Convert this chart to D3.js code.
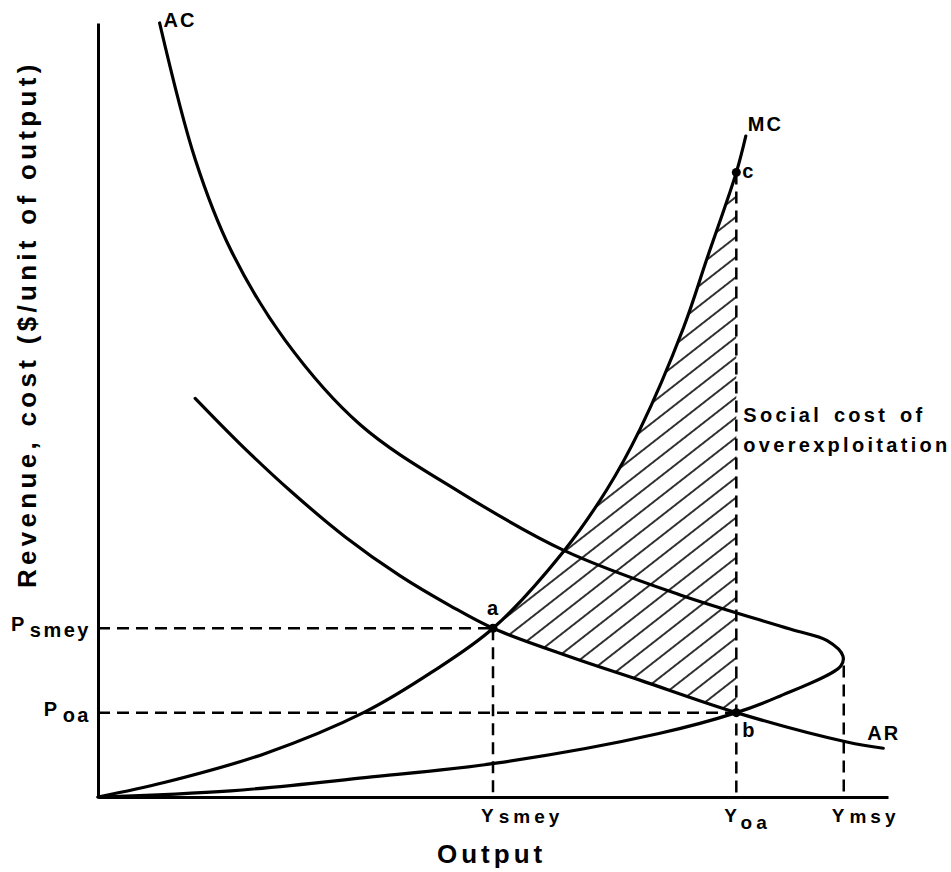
<!DOCTYPE html>
<html>
<head>
<meta charset="utf-8">
<script src="https://cdn.jsdelivr.net/npm/d3@7"></script>
<style>
  body { margin: 0; background: #fff; }
  text { font-family: "Liberation Sans", Arial, sans-serif; font-weight: bold; fill: #000; }
</style>
</head>
<body>
<div id="chart"></div>
<script>
// curves as [output, price] pairs (arbitrary units 0-100)
const acCurve = [[7.8,100],[12.3,82.4],[16.8,70.7],[23.7,59.0],[33.2,48.1],[45.8,39.4],[58.9,31.9],
  [73.7,26.1],[87.6,21.7],[92.3,20.2],[94.3,18.2],[94.0,16.9],[86.0,12.9],[80.8,10.9],
  [71.0,8.2],[50.6,4.4],[33.8,2.5],[16.8,0.8],[0,0]];
const arCurve = [[12.3,51.5],[18.0,45.6],[24.3,39.6],[31.3,33.6],[38.2,28.6],[44.6,24.7],[50,21.8],
  [60.1,18.0],[68.6,15.1],[80.8,10.9],[94.8,7.1],[99.4,6.3]];
const mcCurve = [[0,0],[8.5,1.9],[21.1,5.6],[33.8,11.0],[42.2,16.1],[50,21.8],[58.9,31.7],[64.4,39.7],
  [68.6,47.5],[74.1,60.6],[77.1,69.6],[80.8,80.7],[82.0,85.4]];

// key points
const pointNames = ["a", "b", "c"];
const pointValues = [[50, 21.8], [80.8, 10.9], [80.8, 80.7]];

// axis labels
const outputTicks = [50, 80.8, 94.4];
const outputTickLabels = [["Y", "smey"], ["Y", "oa"], ["Y", "msy"]];
const priceTicks = [21.8, 10.9];
const priceTickLabels = [["P", "smey"], ["P", "oa"]];
const ymsyTop = 17.0;

const curveNames = ["AC", "MC", "AR"];

function draw() {
  const width = 951, height = 872;
  const margin = { top: 23, right: 63, bottom: 75, left: 98 };

  const x = d3.scaleLinear().domain([0, 100]).range([margin.left, width - margin.right]);
  const y = d3.scaleLinear().domain([0, 100]).range([height - margin.bottom, margin.top]);

  const svg = d3.select("#chart").append("svg")
    .attr("width", width)
    .attr("height", height);

  const line = d3.line()
    .x(function(d) { return x(d[0]); })
    .y(function(d) { return y(d[1]); })
    .curve(d3.curveCatmullRom.alpha(0.5));

  const a = pointValues[0], b = pointValues[1], c = pointValues[2];

  // curves (appended first so they can be sampled for the hatched area)
  const curveG = svg.append("g").attr("class", "curves");
  const acPath = curveG.append("path").attr("d", line(acCurve));
  const arPath = curveG.append("path").attr("d", line(arCurve));
  const mcPath = curveG.append("path").attr("d", line(mcCurve));
  curveG.selectAll("path")
    .attr("fill", "none")
    .attr("stroke", "#000")
    .attr("stroke-width", 3.2)
    .attr("stroke-linecap", "round")
    .attr("stroke-linejoin", "round");

  // hatched area between MC and AR from a to Yoa
  function sample(node, n) {
    const L = node.getTotalLength();
    const pts = [];
    for (let i = 0; i <= n; i++) {
      const p = node.getPointAtLength(L * i / n);
      pts.push([p.x, p.y]);
    }
    return pts;
  }
  const xa = x(a[0]), xb = x(b[0]);
  const mcPts = sample(mcPath.node(), 600).filter(function(p) { return p[0] > xa && p[0] < xb; });
  const arPts = sample(arPath.node(), 600).filter(function(p) { return p[0] > xa && p[0] < xb; }).reverse();
  const region = [[xa, y(a[1])]].concat(mcPts, [[xb, y(c[1])], [xb, y(b[1])]], arPts);

  const defs = svg.append("defs");
  defs.append("clipPath").attr("id", "hatchClip")
    .append("polygon")
    .attr("points", region.map(function(p) { return p.join(","); }).join(" "));
  const pat = defs.append("pattern")
    .attr("id", "hatch")
    .attr("patternUnits", "userSpaceOnUse")
    .attr("width", 10)
    .attr("height", 15.8)
    .attr("patternTransform", "rotate(-38)");
  pat.append("line")
    .attr("x1", -1).attr("x2", 11)
    .attr("y1", 7.9).attr("y2", 7.9)
    .attr("stroke", "#000")
    .attr("stroke-width", 1.6);

  svg.insert("rect", ".curves")
    .attr("x", xa - 5)
    .attr("y", y(c[1]) - 5)
    .attr("width", xb - xa + 10)
    .attr("height", y(b[1]) - y(c[1]) + 10)
    .attr("fill", "url(#hatch)")
    .attr("clip-path", "url(#hatchClip)");

  // dashed guide lines
  const guides = [
    [[0, a[1]], [a[0], a[1]]],
    [[a[0], a[1]], [a[0], 0]],
    [[0, b[1]], [b[0], b[1]]],
    [[c[0], c[1]], [c[0], 0]],
    [[outputTicks[2], ymsyTop], [outputTicks[2], 0]]
  ];
  svg.insert("g", ".curves").selectAll("line")
    .data(guides)
    .enter()
    .append("line")
    .attr("x1", function(d) { return x(d[0][0]); })
    .attr("y1", function(d) { return y(d[0][1]); })
    .attr("x2", function(d) { return x(d[1][0]); })
    .attr("y2", function(d) { return y(d[1][1]); })
    .attr("stroke", "#000")
    .attr("stroke-width", 2.5)
    .attr("stroke-dasharray", "12,7");

  // axes
  const xAxis = d3.axisBottom(x).tickValues([]).tickSizeOuter(0);
  const yAxis = d3.axisLeft(y).tickValues([]).tickSizeOuter(0);
  const gx = svg.append("g").attr("transform", "translate(0," + y(0) + ")").call(xAxis);
  const gy = svg.append("g").attr("transform", "translate(" + x(0) + ",0)").call(yAxis);
  gx.select(".domain").attr("stroke-width", 3);
  gy.select(".domain").attr("stroke-width", 3);

  // points
  svg.selectAll(".pt")
    .data(pointValues)
    .enter()
    .append("circle")
    .attr("class", "pt")
    .attr("cx", function(d) { return x(d[0]); })
    .attr("cy", function(d) { return y(d[1]); })
    .attr("r", 4.5)
    .attr("fill", "#000");

  const pointOffsets = [[-6, -13], [6, 24], [6, 6]];
  svg.selectAll(".ptlabel")
    .data(pointNames)
    .enter()
    .append("text")
    .attr("class", "ptlabel")
    .attr("x", function(d, i) { return x(pointValues[i][0]) + pointOffsets[i][0]; })
    .attr("y", function(d, i) { return y(pointValues[i][1]) + pointOffsets[i][1]; })
    .attr("font-size", 20)
    .text(function(d) { return d; });

  // curve labels
  const curveLabelPos = [[acCurve[0], 4, 4], [mcCurve[mcCurve.length - 1], 2, -5], [arCurve[arCurve.length - 1], -16, -8]];
  svg.selectAll(".clabel")
    .data(curveNames)
    .enter()
    .append("text")
    .attr("class", "clabel")
    .attr("x", function(d, i) { return x(curveLabelPos[i][0][0]) + curveLabelPos[i][1]; })
    .attr("y", function(d, i) { return y(curveLabelPos[i][0][1]) + curveLabelPos[i][2]; })
    .attr("font-size", 20)
    .attr("letter-spacing", 2)
    .text(function(d) { return d; });

  // social cost note
  const note = svg.append("text")
    .attr("x", x(c[0]) + 7)
    .attr("y", 422)
    .attr("font-size", 20)
    .attr("letter-spacing", 3.3);
  note.append("tspan").attr("x", x(c[0]) + 7).attr("word-spacing", 3).text("Social cost of");
  note.append("tspan").attr("x", x(c[0]) + 7).attr("dy", 30).text("overexploitation");

  // price labels
  const pl = svg.selectAll(".plabel")
    .data(priceTickLabels)
    .enter()
    .append("text")
    .attr("class", "plabel")
    .attr("text-anchor", "end")
    .attr("x", x(0) - 7)
    .attr("y", function(d, i) { return y(priceTicks[i]) + 3; })
    .attr("font-size", 20)
    .attr("letter-spacing", 2.5);
  pl.append("tspan").text(function(d) { return d[0]; });
  pl.append("tspan").attr("dx", 3).attr("dy", 6).text(function(d) { return d[1]; });

  // output labels
  const ol = svg.selectAll(".olabel")
    .data(outputTickLabels)
    .enter()
    .append("text")
    .attr("class", "olabel")
    .attr("x", function(d, i) { return x(outputTicks[i]) - 12; })
    .attr("y", 822)
    .attr("font-size", 19)
    .attr("letter-spacing", 4);
  ol.append("tspan").text(function(d) { return d[0]; });
  ol.append("tspan").attr("dx", 1).attr("dy", function(d) { return d[1] === "oa" ? 7 : 1; })
    .text(function(d) { return d[1]; });

  // axis titles
  svg.append("text")
    .attr("x", 437)
    .attr("y", 863)
    .attr("font-size", 26)
    .attr("letter-spacing", 4)
    .text("Output");

  svg.append("text")
    .attr("transform", "translate(36,588) rotate(-90)")
    .attr("font-size", 26)
    .attr("letter-spacing", 4.3)
    .text("Revenue, cost ($/unit of output)");
}

window.onload = draw;
</script>
</body>
</html>
